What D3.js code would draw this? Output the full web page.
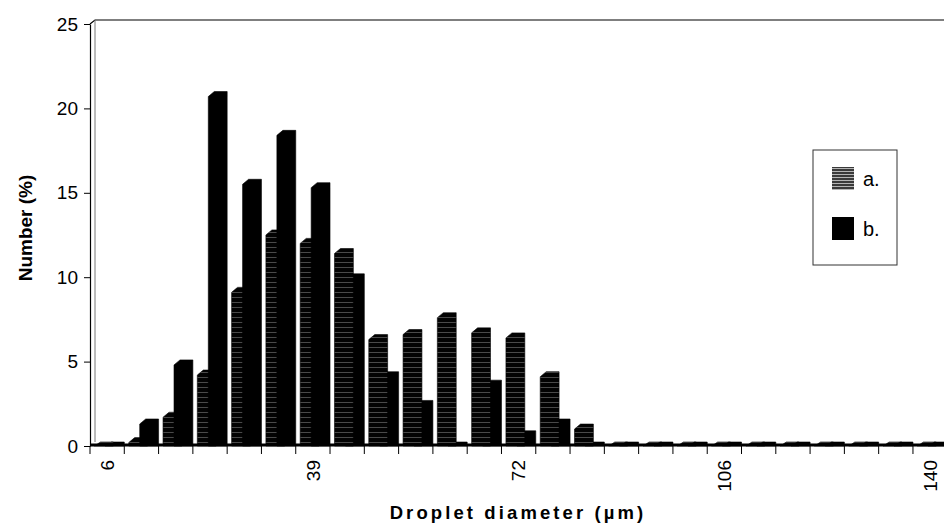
<!DOCTYPE html>
<html>
<head>
<meta charset="utf-8">
<script src="https://cdn.jsdelivr.net/npm/d3@7"></script>
<style>
  body { margin: 0; background: #fff; }
  svg { display: block; font-family: "Liberation Sans", Arial, sans-serif; }
</style>
</head>
<body>
<div id="chart"></div>
<script>
// droplet size classes (um) and number % for both samples
const diameters = [6, 11, 17, 22, 28, 33, 39, 44, 50, 55, 61, 66, 72, 78, 83, 89, 95, 100, 106, 112, 117, 123, 129, 134, 140];
const seriesA = [0.1, 0.5, 2.0, 4.5, 9.4, 12.8, 12.3, 11.7, 6.6, 6.9, 7.9, 7.0, 6.7, 4.4, 1.3, 0, 0, 0, 0, 0, 0, 0, 0, 0, 0];
const seriesB = [0, 1.6, 5.1, 21.0, 15.8, 18.7, 15.6, 10.2, 4.4, 2.7, 0.2, 3.9, 0.9, 1.6, 0.1, 0, 0, 0, 0, 0, 0, 0, 0, 0, 0];
const seriesNames = ["a.", "b."];
const yTicks = [0, 5, 10, 15, 20, 25];
const labelEvery = 6;

const w = 944;
const h = 526;
const plotLeft = 90, plotBottom = 446, plotTop = 24;
const depthX = 5, depthY = 4;   // 3d back wall offset
const minBar = 4;               // zero bars still show their top face

const x = d3.scaleBand()
    .domain(diameters)
    .range([plotLeft, plotLeft + 34.29 * diameters.length]);
const y = d3.scaleLinear()
    .domain([0, 25])
    .range([plotBottom, plotTop]);

const svg = d3.select("#chart")
    .append("svg")
    .attr("width", w)
    .attr("height", h);

const defs = svg.append("defs");
const stripes = defs.append("pattern")
    .attr("id", "stripes")
    .attr("patternUnits", "userSpaceOnUse")
    .attr("width", 4).attr("height", 5);
stripes.append("rect").attr("width", 4).attr("height", 5).attr("fill", "#030303");
stripes.append("rect").attr("y", 2).attr("width", 4).attr("height", 1).attr("fill", "#4a4a4a");

const stripesLegend = defs.append("pattern")
    .attr("id", "stripes-legend")
    .attr("patternUnits", "userSpaceOnUse")
    .attr("width", 3).attr("height", 3);
stripesLegend.append("rect").attr("width", 3).attr("height", 3).attr("fill", "#3a3a3a");
stripesLegend.append("rect").attr("y", 1).attr("width", 3).attr("height", 1).attr("fill", "#b5b5b5");

// back wall
svg.append("path")
    .attr("d", `M${plotLeft},${plotTop} L${plotLeft + depthX},${plotTop - depthY} L${w},${plotTop - depthY}`)
    .attr("fill", "none").attr("stroke", "#000").attr("stroke-width", 1.2);
svg.append("line")
    .attr("x1", plotLeft + depthX).attr("x2", plotLeft + depthX)
    .attr("y1", plotTop - depthY).attr("y2", plotBottom - depthY)
    .attr("stroke", "#777").attr("stroke-width", 1);

// bars
const bw = x.bandwidth();
const barW = bw * 0.55;
const offsets = { "a.": bw * 0.13, "b.": bw * 0.45 };
const fills = { "a.": "url(#stripes)", "b.": "#000" };

const barPath = (x0, v) => {
    const yt = Math.min(y(v), plotBottom - minBar);
    const hh = plotBottom - yt;
    const cw = 6, ch = Math.min(5, hh);
    return `M${x0},${plotBottom} L${x0},${yt + ch} L${x0 + cw},${yt} L${x0 + barW},${yt} L${x0 + barW},${plotBottom} Z`;
};

const groups = svg.append("g")
    .selectAll("g")
    .data(diameters)
    .enter()
    .append("g");

// taller bar of each class is drawn in front
groups.selectAll("path")
    .data((d, i) => [
        { key: "a.", v: seriesA[i], d },
        { key: "b.", v: seriesB[i], d }
    ].sort((p, q) => p.v - q.v))
    .enter()
    .append("path")
    .attr("d", p => barPath(x(p.d) + offsets[p.key], p.v))
    .attr("fill", p => fills[p.key])
    .attr("stroke", "#000")
    .attr("stroke-width", 0.6);

// y axis
const yAxis = d3.axisLeft(y)
    .tickValues(yTicks)
    .tickSize(6)
    .tickSizeOuter(0)
    .tickPadding(6);
const yg = svg.append("g")
    .attr("transform", `translate(${plotLeft},0)`)
    .call(yAxis);
yg.select(".domain").attr("stroke-width", 1.2);
yg.selectAll("text").attr("font-size", 19).attr("fill", "#000");

// x axis line and tick marks at class boundaries
svg.append("line")
    .attr("x1", plotLeft).attr("x2", w)
    .attr("y1", plotBottom - 1).attr("y2", plotBottom - 1)
    .attr("stroke", "#000").attr("stroke-width", 3);
svg.append("g")
    .selectAll("line")
    .data(diameters)
    .enter()
    .append("line")
    .attr("x1", d => x(d)).attr("x2", d => x(d))
    .attr("y1", plotBottom).attr("y2", plotBottom + 8)
    .attr("stroke", "#000").attr("stroke-width", 1);

const xAxis = d3.axisBottom(x)
    .tickValues(diameters.filter((d, i) => i % labelEvery === 0))
    .tickSize(0)
    .tickSizeOuter(0);
const xg = svg.append("g")
    .attr("transform", `translate(0,${plotBottom})`)
    .call(xAxis);
xg.select(".domain").remove();
xg.selectAll("text")
    .attr("font-size", 19)
    .attr("fill", "#000")
    .attr("text-anchor", "end")
    .attr("transform", "rotate(-90)")
    .attr("x", -14)
    .attr("y", 0)
    .attr("dy", "0.35em");

// titles
svg.append("text")
    .attr("x", 518).attr("y", 519)
    .attr("text-anchor", "middle")
    .attr("font-size", 18.5)
    .attr("font-weight", "bold")
    .attr("letter-spacing", 3.1)
    .text("Droplet diameter (µm)");

svg.append("text")
    .attr("transform", "translate(32,228) rotate(-90)")
    .attr("text-anchor", "middle")
    .attr("font-size", 19)
    .attr("font-weight", "bold")
    .text("Number (%)");

// legend
const legend = svg.append("g").attr("transform", "translate(813,150)");
legend.append("rect")
    .attr("width", 84).attr("height", 115)
    .attr("fill", "#fff").attr("stroke", "#333").attr("stroke-width", 1);
const items = legend.selectAll("g.item")
    .data(seriesNames)
    .enter()
    .append("g")
    .attr("class", "item")
    .attr("transform", (d, i) => `translate(19,${17 + i * 50})`);
items.append("rect")
    .attr("width", 22).attr("height", 23)
    .attr("fill", (d, i) => i === 0 ? "url(#stripes-legend)" : "#000");
items.append("text")
    .attr("x", 31).attr("y", 12)
    .attr("dy", "0.35em")
    .attr("font-size", 20)
    .text(d => d);
</script>
</body>
</html>
